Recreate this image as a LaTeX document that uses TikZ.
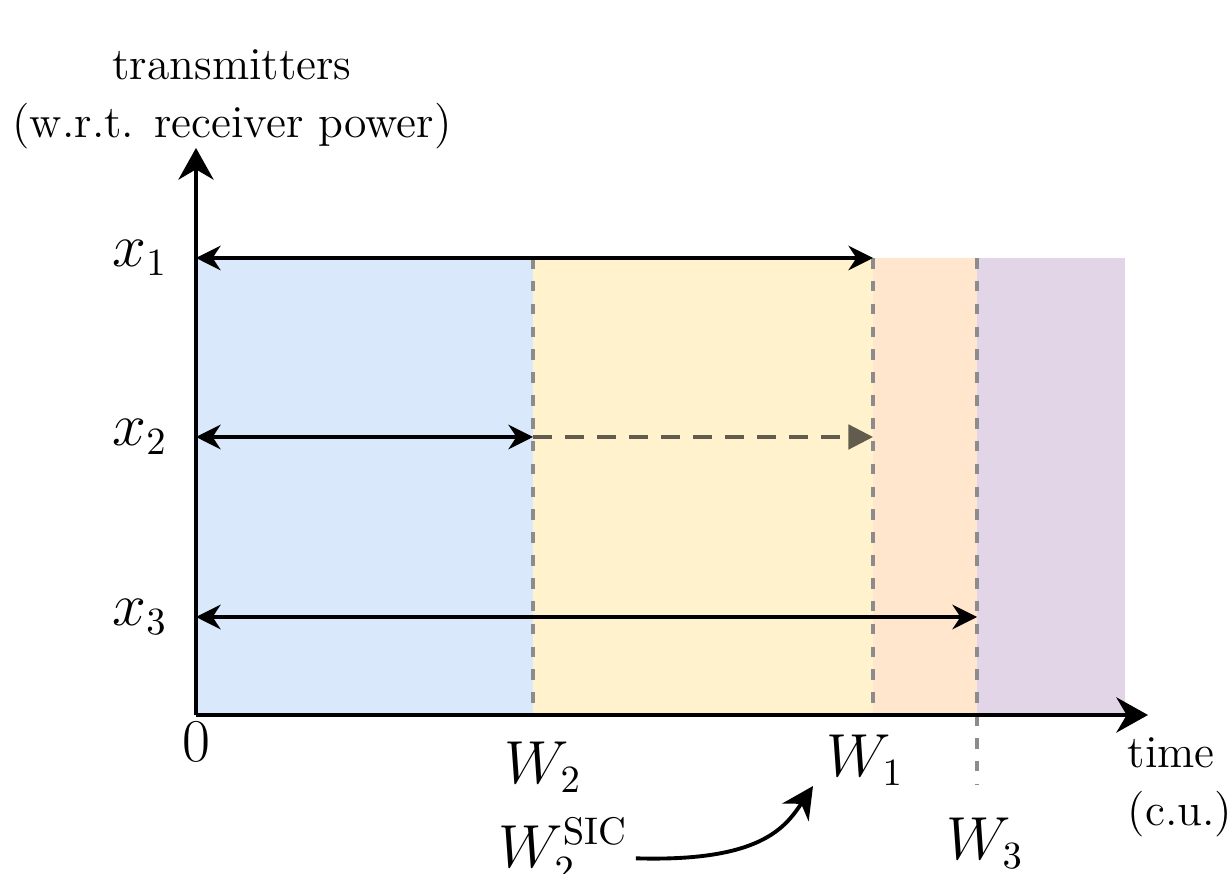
\documentclass[tikz,border=0pt]{standalone}
\usepackage{tikz}
\usetikzlibrary{arrows.meta}
\definecolor{FillBlue}{HTML}{DAE8FC}
\definecolor{FillYellow}{HTML}{FFF2CC}
\definecolor{FillOrange}{HTML}{FFE6CC}
\definecolor{FillPurple}{HTML}{E1D5E7}
\definecolor{MarkGray}{HTML}{8C8C8C}
\definecolor{SicGray}{HTML}{615C4E}

\begin{document}
\begin{tikzpicture}[x=0.01cm,y=0.01cm,
  every node/.style={font=\fontsize{13}{16.5}\selectfont, inner sep=1pt},
  mathlbl/.style={font=\fontsize{16}{19}\selectfont},
  span/.style={line width=0.9pt, {Stealth[length=7pt,width=7pt]}-{Stealth[length=7pt,width=7pt]}},
  axis/.style={line width=1.1pt, -{Stealth[length=9pt,width=10pt]}},
  bound/.style={MarkGray, line width=1.1pt, dash pattern=on 3pt off 3.5pt}]
  \useasboundingbox (0,0) rectangle (1231,873);
  % bands
  \fill[FillBlue] (196,158) rectangle (533,615);
  \fill[FillYellow] (533,158) rectangle (873,615);
  \fill[FillOrange] (873,158) rectangle (977,615);
  \fill[FillPurple] (977,158) rectangle (1125,615);
  % boundaries
  \coordinate (o) at (196,158);
  \coordinate (w2) at (533,158);
  \coordinate (w1) at (873,158);
  \coordinate (w3) at (977,88);
  \draw[bound] (533,615) -- (w2);
  \draw[bound] (873,615) -- (w1);
  \draw[bound] (977,615) -- (w3);
  % axes
  \coordinate (ytip) at (196,725);
  \coordinate (xtip) at (1148,158);
  \draw[axis] (o) -- (ytip);
  \draw[axis] (o) -- (xtip);
  % transmitters
  \coordinate (a1) at (196,615); \coordinate (b1) at (873,615);
  \coordinate (a2) at (196,436); \coordinate (b2) at (533,436);
  \coordinate (c2) at (873,436);
  \coordinate (a3) at (196,256); \coordinate (b3) at (977,256);
  \draw[span] (a1) -- (b1);
  \draw[span] (a2) -- (b2);
  \draw[SicGray, line width=0.9pt, dash pattern=on 5.4pt off 3.7pt,
    -{Triangle[length=7pt,width=7pt]}] (b2) -- (c2);
  \draw[span] (a3) -- (b3);
  \node[mathlbl] (x1) at (140,615) {$x_1$};
  \node[mathlbl] (x2) at (140,436) {$x_2$};
  \node[mathlbl] (x3) at (140,256) {$x_3$};
  \node (ylbl) at (232,776) {\begin{tabular}{c}transmitters\\(w.r.t. receiver power)\end{tabular}};
  \node (xlbl) at (1180,88) {\begin{tabular}{l}time\\(c.u.)\end{tabular}};
  \node[mathlbl] (zero) at (196,131) {$0$};
  \node[mathlbl] (lw2) at (543,106) {$W_2$};
  \node[mathlbl] (lw1) at (865,113) {$W_1$};
  \node[mathlbl] (lw3) at (985,30) {$W_3$};
  \node[mathlbl, anchor=base] (lsic) at (563,6) {$W_2^{\mathrm{SIC}}$};
  \coordinate (sictip) at (813,87);
  \draw[line width=1.1pt, -{Stealth[length=9pt,width=9pt]}] (lsic.east) ++(4,-8)
    .. controls (760,11) and (785,45) .. (sictip);
\end{tikzpicture}
\end{document}
